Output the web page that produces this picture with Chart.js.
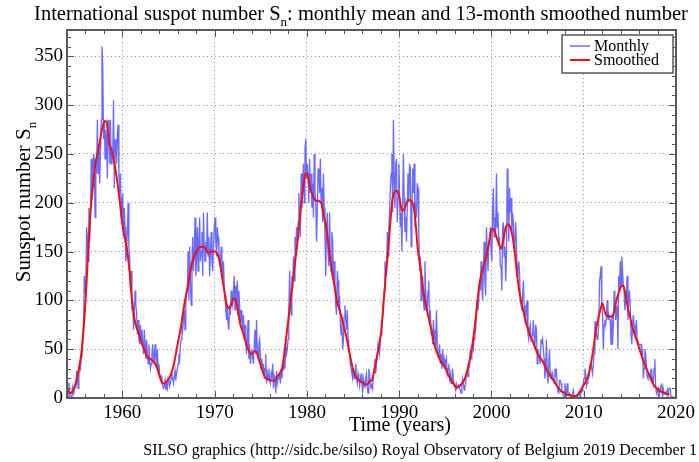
<!DOCTYPE html>
<html>
<head>
<meta charset="utf-8">
<script src="https://cdn.jsdelivr.net/npm/chart.js@4.4.0/dist/chart.umd.min.js"></script>
<style>
  html, body { margin: 0; padding: 0; background: #fff; }
  #wrap { width: 699px; height: 462px; position: relative; }
</style>
</head>
<body>
<div id="wrap"><canvas id="chart"></canvas></div>
<script>
// monthly mean sunspot number, one row per year starting Jan 1954
const startYear = 1954;
const monthly = [
  0, 1, 16, 3, 2, 1, 8, 12, 3, 10, 14, 12,
  28, 22, 10, 25, 33, 30, 42, 50, 58, 75, 125, 108,
  120, 175, 165, 140, 195, 160, 185, 245, 210, 230, 250, 245,
  185, 245, 230, 285, 230, 260, 220, 250, 285, 360, 340, 265,
  285, 245, 275, 265, 225, 285, 270, 240, 285, 240, 255, 250,
  305, 215, 265, 255, 240, 270, 280, 230, 210, 230, 185, 200,
  210, 165, 195, 175, 140, 150, 170, 200, 155, 145, 110, 130,
  90, 100, 70, 85, 110, 95, 88, 65, 80, 60, 55, 75,
  60, 70, 55, 45, 70, 55, 40, 60, 45, 35, 55, 40,
  30, 35, 45, 55, 40, 35, 55, 45, 30, 50, 28, 35,
  25, 20, 22, 15, 12, 10, 12, 18, 8, 14, 10, 20,
  18, 12, 15, 20, 25, 20, 15, 22, 28, 18, 25, 30,
  35, 45, 40, 55, 60, 75, 70, 80, 90, 70, 95, 110,
  110, 150, 100, 155, 120, 95, 140, 165, 130, 150, 185, 125,
  145, 175, 130, 160, 185, 140, 150, 170, 125, 190, 155, 140,
  160, 150, 190, 145, 165, 125, 150, 170, 140, 130, 155, 175,
  185, 160, 145, 175, 165, 150, 140, 135, 155, 130, 125, 140,
  115, 105, 90, 80, 95, 75, 70, 95, 85, 110, 100, 95,
  110, 125, 90, 115, 100, 120, 85, 110, 95, 75, 90, 80,
  70, 85, 60, 75, 55, 45, 60, 80, 40, 55, 35, 45,
  50, 40, 35, 55, 70, 45, 80, 50, 40, 55, 60, 45,
  30, 40, 25, 35, 20, 30, 45, 15, 25, 20, 30, 18,
  15, 25, 20, 35, 10, 22, 18, 5, 28, 15, 20, 25,
  25, 15, 30, 20, 35, 28, 40, 30, 55, 45, 50, 60,
  90, 130, 100, 85, 125, 110, 145, 120, 165, 150, 175, 160,
  180, 210, 185, 165, 230, 195, 215, 240, 200, 255, 265, 225,
  240, 225, 200, 245, 210, 230, 195, 220, 185, 250, 210, 200,
  160, 190, 235, 230, 210, 245, 200, 215, 180, 230, 195, 165,
  125, 175, 190, 150, 135, 190, 145, 130, 170, 160, 120, 140,
  110, 95, 85, 130, 120, 90, 105, 75, 65, 80, 50, 60,
  85, 95, 80, 70, 90, 60, 50, 45, 35, 30, 25, 20,
  30, 20, 25, 35, 20, 15, 25, 20, 12, 18, 25, 15,
  5, 20, 15, 10, 20, 25, 12, 5, 30, 25, 15, 10,
  15, 10, 25, 30, 40, 25, 35, 45, 55, 50, 45, 60,
  65, 75, 85, 100, 110, 140, 130, 125, 170, 145, 175, 190,
  215, 230, 250, 190, 285, 225, 195, 240, 245, 180, 205, 240,
  210, 175, 190, 150, 200, 250, 205, 170, 185, 160, 195, 230,
  200, 240, 235, 155, 185, 235, 210, 240, 175, 200, 185, 220,
  215, 170, 130, 145, 100, 110, 125, 100, 90, 140, 110, 95,
  90, 110, 120, 75, 90, 65, 70, 55, 80, 60, 70, 50,
  90, 55, 45, 40, 55, 35, 45, 30, 50, 35, 40, 30,
  35, 40, 25, 30, 35, 20, 25, 15, 20, 30, 18, 15,
  12, 8, 14, 10, 12, 14, 10, 8, 5, 12, 20, 15,
  8, 12, 15, 25, 25, 22, 30, 32, 50, 40, 48, 55,
  50, 60, 65, 70, 85, 95, 90, 100, 120, 110, 140, 115,
  100, 130, 160, 120, 105, 175, 150, 130, 155, 165, 175, 150,
  140, 195, 215, 165, 185, 170, 230, 175, 190, 160, 165, 135,
  135, 110, 175, 180, 145, 155, 120, 145, 235, 200, 160, 215,
  190, 205, 170, 190, 180, 150, 160, 180, 160, 125, 130, 140,
  130, 100, 95, 90, 105, 120, 95, 80, 75, 95, 100, 65,
  60, 70, 75, 60, 60, 65, 80, 60, 50, 75, 70, 35,
  50, 45, 40, 35, 60, 55, 60, 50, 40, 20, 30, 60,
  25, 15, 35, 50, 20, 25, 20, 25, 20, 15, 30, 25,
  30, 12, 6, 5, 18, 18, 15, 8, 5, 2, 2, 15,
  5, 3, 15, 5, 4, 5, 1, 0, 2, 5, 8, 2,
  2, 2, 1, 2, 4, 5, 5, 0, 6, 8, 7, 16,
  20, 30, 25, 12, 15, 20, 20, 25, 35, 35, 35, 25,
  35, 45, 78, 78, 65, 60, 65, 75, 120, 125, 135, 95,
  85, 50, 75, 80, 75, 85, 100, 80, 85, 80, 80, 55,
  85, 55, 75, 110, 105, 80, 90, 95, 50, 125, 110, 140,
  115, 145, 130, 115, 110, 90, 100, 105, 125, 80, 100, 110,
  95, 65, 55, 75, 85, 75, 65, 65, 80, 60, 60, 55,
  55, 55, 55, 40, 50, 20, 30, 50, 45, 35, 22, 20,
  25, 25, 18, 30, 18, 20, 15, 30, 40, 12, 5, 8,
  7, 10, 3, 8, 13, 15, 1, 9, 4, 5, 6, 4,
  8, 1, 9, 10, 10, 0, 1, 1, 1, 0, 0
];

// 13-month smoothed number, one value per quarter (Jan, Apr, Jul, Oct) from 1954
const smoothed = [
  9, 5, 6, 10,
  18, 30, 45, 70,
  105, 150, 190, 215,
  238, 250, 262, 275,
  283, 283, 262, 255,
  245, 232, 215, 195,
  175, 163, 150, 128,
  100, 82, 72, 66,
  57, 52, 45, 41,
  40, 38, 35, 30,
  22, 16, 15, 17,
  20, 25, 33, 45,
  58, 70, 85, 100,
  112, 125, 138, 145,
  150, 154, 155, 155,
  153, 148, 150, 150,
  150, 148, 140, 125,
  110, 96, 92, 95,
  102, 100, 88, 75,
  68, 60, 52, 47,
  45, 48, 47, 40,
  32, 25, 20, 19,
  18, 18, 18, 22,
  25, 30, 45, 65,
  85, 105, 125, 145,
  165, 190, 212, 228,
  230, 218, 210, 204,
  202, 202, 200, 188,
  178, 160, 140, 125,
  112, 98, 90, 82,
  72, 62, 50, 38,
  28, 22, 19, 17,
  16, 14, 14, 17,
  18, 28, 40, 52,
  68, 95, 125, 150,
  180, 205, 212, 212,
  205, 192, 193, 200,
  203, 202, 198, 178,
  150, 135, 115, 100,
  88, 78, 68, 55,
  48, 42, 37, 34,
  30, 24, 20, 16,
  12, 11, 12, 15,
  18, 25, 35, 46,
  62, 82, 105, 122,
  132, 140, 150, 162,
  173, 172, 165, 158,
  153, 162, 175, 178,
  175, 165, 148, 125,
  108, 96, 85, 76,
  68, 62, 56, 50,
  45, 41, 38, 33,
  28, 24, 20, 17,
  13, 10, 7, 6,
  4, 3, 3, 2,
  2, 3, 6, 10,
  14, 18, 25, 36,
  50, 68, 80, 90,
  97, 88, 84, 84,
  83, 88, 100, 108,
  114, 115, 105, 92,
  82, 72, 64, 58,
  50, 43, 36, 30,
  25, 20, 14, 11,
  9, 7, 6, 5,
  4, 4
];

const xTicks = [1960, 1970, 1980, 1990, 2000, 2010, 2020];
const yTicks = [0, 50, 100, 150, 200, 250, 300, 350];

const monthlyPts = monthly.map((v, i) => ({ x: startYear + (i + 0.5) / 12, y: v }));
const smoothedPts = smoothed.map((v, i) => ({ x: startYear + (i * 3 + 0.5) / 12, y: v }));

const serif = "'Liberation Serif', 'Times New Roman', serif";

// text with a subscript n, drawn piece by piece
function drawSubText(ctx, parts, x, y, size, align) {
  const big = size + 'px ' + serif;
  const small = Math.round(size * 0.62) + 'px ' + serif;
  let w = 0;
  parts.forEach(p => { ctx.font = p.sub ? small : big; w += ctx.measureText(p.t).width; });
  let cx = align === 'center' ? x - w / 2 : x;
  ctx.textAlign = 'left';
  ctx.textBaseline = 'alphabetic';
  parts.forEach(p => {
    ctx.font = p.sub ? small : big;
    ctx.fillText(p.t, cx, p.sub ? y + size * 0.3 : y);
    cx += ctx.measureText(p.t).width;
  });
}

const decor = {
  id: 'decor',
  afterDraw(chart) {
    const { ctx, chartArea: a, scales: { x, y } } = chart;
    ctx.save();

    // inner ticks on all four sides
    ctx.strokeStyle = '#555';
    ctx.lineWidth = 1;
    ctx.beginPath();
    for (let v = 1954; v <= 2020; v += 2) {
      const px = Math.round(x.getPixelForValue(v)) + 0.5;
      const len = v % 10 === 0 ? 7 : 4;
      ctx.moveTo(px, a.bottom); ctx.lineTo(px, a.bottom - len);
      ctx.moveTo(px, a.top); ctx.lineTo(px, a.top + len);
    }
    for (let v = 0; v <= 370; v += 10) {
      const py = Math.round(y.getPixelForValue(v)) + 0.5;
      const len = v % 50 === 0 ? 7 : 4;
      ctx.moveTo(a.left, py); ctx.lineTo(a.left + len, py);
      ctx.moveTo(a.right, py); ctx.lineTo(a.right - len, py);
    }
    ctx.stroke();

    // frame
    ctx.strokeStyle = '#5a5a5a';
    ctx.lineWidth = 2;
    ctx.strokeRect(a.left, a.top, a.right - a.left, a.bottom - a.top);

    // legend
    ctx.fillStyle = '#fff';
    ctx.fillRect(562, 35, 111, 38);
    ctx.strokeStyle = '#555';
    ctx.lineWidth = 1.5;
    ctx.strokeRect(562, 35, 111, 38);
    ctx.lineWidth = 1.5;
    ctx.strokeStyle = 'rgba(80,80,255,0.85)';
    ctx.beginPath(); ctx.moveTo(570, 46); ctx.lineTo(590, 46); ctx.stroke();
    ctx.strokeStyle = '#ee1111';
    ctx.lineWidth = 2;
    ctx.beginPath(); ctx.moveTo(570, 60); ctx.lineTo(590, 60); ctx.stroke();
    ctx.fillStyle = '#000';
    ctx.font = '16px ' + serif;
    ctx.textAlign = 'left';
    ctx.textBaseline = 'middle';
    ctx.fillText('Monthly', 594, 47);
    ctx.fillText('Smoothed', 594, 61);

    // title
    ctx.fillStyle = '#000';
    drawSubText(ctx, [
      { t: 'International suspot number S' },
      { t: 'n', sub: true },
      { t: ': monthly mean and 13-month smoothed number' }
    ], 361, 20, 20.5, 'center');

    // y axis title
    ctx.save();
    ctx.translate(30, 202);
    ctx.rotate(-Math.PI / 2);
    drawSubText(ctx, [{ t: 'Sunspot number S' }, { t: 'n', sub: true }], 0, 0, 21, 'center');
    ctx.restore();

    // x axis title
    ctx.font = '20px ' + serif;
    ctx.textAlign = 'center';
    ctx.textBaseline = 'alphabetic';
    ctx.fillText('Time (years)', 400, 431);

    // footer
    ctx.font = '16px ' + serif;
    ctx.textAlign = 'right';
    ctx.fillText('SILSO graphics (http://sidc.be/silso) Royal Observatory of Belgium 2019 December 1', 697, 455);

    ctx.restore();
  }
};

new Chart(document.getElementById('chart'), {
  type: 'line',
  data: {
    datasets: [
      {
        label: 'Smoothed',
        data: smoothedPts,
        borderColor: '#ee1111',
        borderWidth: 2,
        pointRadius: 0,
        tension: 0.3,
        fill: false,
        order: 0
      },
      {
        label: 'Monthly',
        data: monthlyPts,
        borderColor: 'rgba(80,80,255,0.85)',
        borderWidth: 1.3,
        pointRadius: 0,
        tension: 0,
        fill: false,
        order: 1
      }
    ]
  },
  options: {
    responsive: true,
    maintainAspectRatio: false,
    devicePixelRatio: 1,
    animation: false,
    layout: { padding: { left: 0, right: 19, top: 30, bottom: 0 } },
    plugins: { legend: { display: false }, tooltip: { enabled: false } },
    scales: {
      x: {
        type: 'linear',
        min: 1954,
        max: 2020,
        afterBuildTicks: s => { s.ticks = xTicks.map(v => ({ value: v })); },
        afterFit: s => { s.height = 64; },
        ticks: {
          callback: v => String(v),
          color: '#000',
          font: { family: serif, size: 19 },
          padding: 4,
          maxRotation: 0
        },
        grid: { color: '#9a9a9a', lineWidth: 1, drawTicks: false },
        border: { display: false, dash: [1, 3] }
      },
      y: {
        min: 0,
        max: 377,
        afterBuildTicks: s => { s.ticks = yTicks.map(v => ({ value: v })); },
        afterFit: s => { s.width = 67; },
        ticks: {
          callback: v => String(v),
          color: '#000',
          font: { family: serif, size: 19 },
          padding: 4
        },
        grid: { color: '#9a9a9a', lineWidth: 1, drawTicks: false },
        border: { display: false, dash: [1, 3] }
      }
    }
  },
  plugins: [decor]
});
</script>
</body>
</html>
